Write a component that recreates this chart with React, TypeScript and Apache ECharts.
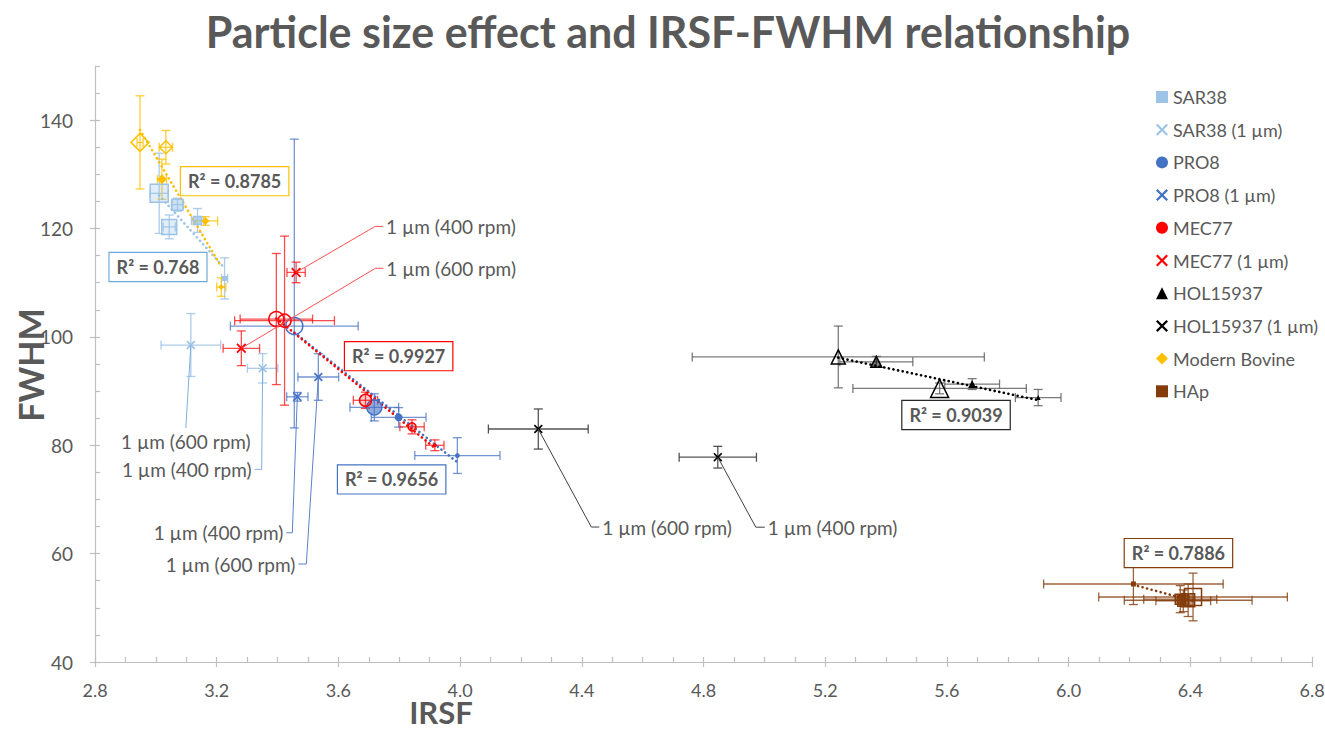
import React, { useEffect, useRef } from 'react';
import * as echarts from 'echarts';

// ---------- texts ----------
const TITLE = 'Particle size effect and IRSF-FWHM relationship';
const X_NAME = 'IRSF';
const Y_NAME = 'FWHM';

// ---------- axes ----------
const X_MIN = 2.8, X_MAX = 6.8, X_STEP = 0.4, X_MINOR = 0.1;
const Y_MIN = 40, Y_MAX = 150, Y_STEP = 20, Y_MINOR = 5;

// ---------- data: [IRSF, FWHM]; errors: [-IRSF, +IRSF, -FWHM, +FWHM] ----------
const SAR38 = [[3.011, 126.5], [3.044, 120.3], [3.071, 124.4], [3.137, 121.5], [3.226, 110.8]];
const SAR38_ERR = [[0.03, 0.03, 7.4, 7.4], [0.02, 0.02, 2.2, 2.2], [0.02, 0.02, 1.2, 1.2], [0.02, 0.02, 2.2, 2.2], [0.01, 0.01, 3.8, 3.8]];
const SAR38_1UM = [[3.115, 98.5], [3.351, 94.2]];
const SAR38_1UM_ERR = [[0.098, 0.098, 5.8, 5.8], [0.05, 0.05, 2.7, 2.7]];
const SAR38_1UM_LABELS = ['1 µm (600 rpm)', '1 µm (400 rpm)'];

const PRO8 = [[3.455, 102.0], [3.718, 87.0], [3.798, 85.15], [3.991, 78.1]];
const PRO8_ERR = [[0.21, 0.21, 18.8, 34.5], [0.08, 0.08, 2.5, 2.5], [0.09, 0.09, 1.8, 1.8], [0.14, 0.14, 3.3, 3.3]];
const PRO8_1UM = [[3.465, 88.95], [3.534, 92.6]];
const PRO8_1UM_ERR = [[0.035, 0.035, 0.8, 0.8], [0.067, 0.067, 4.3, 4.3]];
const PRO8_1UM_LABELS = ['1 µm (400 rpm)', '1 µm (600 rpm)'];

const MEC77 = [[3.396, 103.3], [3.423, 103.0], [3.689, 88.3], [3.842, 83.4], [3.917, 80.0]];
const MEC77_ERR = [[0.119, 0.119, 12.1, 12.1], [0.164, 0.164, 15.6, 15.6], [0.04, 0.04, 1.5, 1.5], [0.04, 0.04, 1.3, 1.3], [0.03, 0.03, 1.0, 1.0]];
const MEC77_1UM = [[3.461, 111.9], [3.281, 97.9]];
const MEC77_1UM_ERR = [[0.03, 0.03, 1.9, 1.9], [0.06, 0.06, 3.2, 3.2]];
const MEC77_1UM_LABELS = ['1 µm (400 rpm)', '1 µm (600 rpm)'];

const HOL = [[5.243, 96.3], [5.368, 95.4], [5.576, 90.5], [5.683, 91.3], [5.900, 88.8]];
const HOL_ERR = [[0.48, 0.48, 5.7, 5.7], [0.12, 0.12, 1.0, 1.0], [0.285, 0.285, 1.0, 1.0], [0.09, 0.09, 1.0, 1.0], [0.075, 0.075, 1.5, 1.5]];
const HOL_1UM = [[4.257, 83.0], [4.847, 77.8]];
const HOL_1UM_ERR = [[0.164, 0.164, 3.7, 3.7], [0.127, 0.127, 2.0, 2.0]];
const HOL_1UM_LABELS = ['1 µm (600 rpm)', '1 µm (400 rpm)'];

const BOVINE = [[2.948, 135.9], [3.033, 135.0], [3.020, 129.1], [3.163, 121.4], [3.215, 109.2]];
const BOVINE_ERR = [[0.01, 0.01, 8.6, 8.6], [0.022, 0.022, 3.1, 3.1], [0.015, 0.015, 3.7, 3.7], [0.04, 0.04, 0.8, 0.8], [0.015, 0.015, 1.7, 1.7]];

const HAP = [[6.213, 54.4], [6.367, 51.6], [6.377, 51.3], [6.393, 51.4], [6.409, 52.0]];
const HAP_ERR = [[0.295, 0.295, 3.8, 3.8], [0.12, 0.12, 2.5, 2.5], [0.09, 0.09, 2.0, 2.0], [0.21, 0.21, 3.0, 3.0], [0.31, 0.31, 4.4, 4.4]];

// R² of each trend line (as printed)
const R2_SAR38 = '0.768';
const R2_PRO8 = '0.9656';
const R2_MEC77 = '0.9927';
const R2_HOL = '0.9039';
const R2_BOVINE = '0.8785';
const R2_HAP = '0.7886';

// ---------- styles ----------
const FONT = 'Lato';
const GREY = '#595959';
const AXIS = '#BFBFBF';
const X_PATH = 'path://M1.3,0L5,3.7L8.7,0L10,1.3L6.3,5L10,8.7L8.7,10L5,6.3L1.3,10L0,8.7L3.7,5L0,1.3Z';

const STYLE = {
  sar: { color: '#9DC3E6', sizes: [18, 15, 11, 8, 5], alpha: [0.3, 0.3, 0.5, 0.7, 1] },
  pro: { color: '#4472C4', sizes: [17, 15, 8, 5], alpha: [0, 0.6, 1, 1] },
  mec: { color: '#FF0000', sizes: [15, 13, 12, 8, 4], alpha: [0, 0, 0.2, 0.3, 1] },
  hol: { color: '#000000', sizes: [14, 11, 18, 8, 5], alpha: [0, 0.5, 0, 1, 1] },
  bov: { color: '#FFC000', sizes: [18, 13, 10, 8, 6], alpha: [0, 0, 1, 1, 1] },
  hap: { color: '#843C0C', sizes: [5, 10, 11, 13, 17], alpha: [1, 0.6, 0.6, 0.5, 0] },
};

function rgba(hex: string, a: number) {
  const n = parseInt(hex.slice(1), 16);
  return `rgba(${(n >> 16) & 255},${(n >> 8) & 255},${n & 255},${a})`;
}

function linfit(pts: number[][]) {
  const n = pts.length;
  let sx = 0, sy = 0, sxx = 0, sxy = 0;
  pts.forEach(([x, y]) => { sx += x; sy += y; sxx += x * x; sxy += x * y; });
  const b = (n * sxy - sx * sy) / (n * sxx - sx * sx);
  const a = (sy - b * sx) / n;
  const xs = pts.map(p => p[0]);
  const x0 = Math.min(...xs), x1 = Math.max(...xs);
  return [[x0, a + b * x0], [x1, a + b * x1]];
}

function scatterSeries(name: string, pts: number[][], symbol: string, color: string, sizes: number[] | number, alpha?: number[]) {
  return {
    name, type: 'scatter', symbol, z: 4,
    xAxisIndex: 0, yAxisIndex: 0,
    itemStyle: { color, borderColor: color, borderWidth: 0, opacity: 1 },
    data: pts.map((p, i) => {
      const a = alpha ? alpha[i] : 1;
      return {
        value: p,
        symbolSize: Array.isArray(sizes) ? sizes[i] : sizes,
        itemStyle: { color: a >= 1 ? color : rgba(color, a), borderColor: color, borderWidth: a >= 1 ? 0 : 1.5 },
      };
    }),
  };
}

function errorSeries(name: string, pts: number[][], err: number[][], color: string, opacity: number) {
  return {
    name: name + ' err', type: 'custom', z: 2, silent: true,
    xAxisIndex: 0, yAxisIndex: 0,
    data: pts.map((p, i) => [p[0], p[1], ...err[i]]),
    encode: { x: 0, y: 1 },
    renderItem: (_params: any, api: any) => {
      const x = api.value(0), y = api.value(1);
      const l = api.coord([x - api.value(2), y]);
      const r = api.coord([x + api.value(3), y]);
      const b = api.coord([x, y - api.value(4)]);
      const t = api.coord([x, y + api.value(5)]);
      const style = { stroke: color, lineWidth: 1.3, opacity };
      const cap = 4.5;
      const ln = (x1: number, y1: number, x2: number, y2: number) => ({ type: 'line', shape: { x1, y1, x2, y2 }, style });
      return {
        type: 'group',
        children: [
          ln(l[0], l[1], r[0], r[1]),
          ln(l[0], l[1] - cap, l[0], l[1] + cap),
          ln(r[0], r[1] - cap, r[0], r[1] + cap),
          ln(t[0], t[1], b[0], b[1]),
          ln(t[0] - cap, t[1], t[0] + cap, t[1]),
          ln(b[0] - cap, b[1], b[0] + cap, b[1]),
        ],
      };
    },
  };
}

function trendSeries(name: string, pts: number[][], color: string) {
  return {
    name: name + ' trend', type: 'line', z: 3, silent: true, symbol: 'none',
    xAxisIndex: 0, yAxisIndex: 0,
    data: linfit(pts),
    lineStyle: { color, width: 2.6, type: [0.1, 4.6], cap: 'round' },
  };
}

// R² label anchors (data coordinates) and callouts (pixel offsets from the marked point)
const R2_BOXES = [
  { text: R2_BOVINE, color: '#FFC000', at: [3.259, 128.75] },
  { text: R2_SAR38, color: '#6FA8DC', at: [3.007, 112.9] },
  { text: R2_MEC77, color: '#FF0000', at: [3.798, 96.45] },
  { text: R2_PRO8, color: '#4472C4', at: [3.775, 73.7] },
  { text: R2_HOL, color: '#262626', at: [5.63, 85.6] },
  { text: R2_HAP, color: '#843C0C', at: [6.361, 60.1] },
];

const CALLOUTS = [
  { pt: MEC77_1UM[0], text: MEC77_1UM_LABELS[0], dx: 79, dy: -46, h: 8, color: '#FF5050' },
  { pt: MEC77_1UM[1], text: MEC77_1UM_LABELS[1], dx: 134, dy: -80, h: 8, color: '#FF5050' },
  { pt: SAR38_1UM[0], text: SAR38_1UM_LABELS[0], dx: -5, dy: 83, h: 0, color: '#7FB0DE' },
  { pt: SAR38_1UM[1], text: SAR38_1UM_LABELS[1], dx: -1, dy: 101, h: -7, color: '#7FB0DE' },
  { pt: PRO8_1UM[0], text: PRO8_1UM_LABELS[0], dx: -5, dy: 136, h: -6, color: '#5B82CC' },
  { pt: PRO8_1UM[1], text: PRO8_1UM_LABELS[1], dx: -12, dy: 187, h: -8, color: '#5B82CC' },
  { pt: HOL_1UM[0], text: HOL_1UM_LABELS[0], dx: 53, dy: 98, h: 8, color: '#404040' },
  { pt: HOL_1UM[1], text: HOL_1UM_LABELS[1], dx: 38, dy: 70, h: 9, color: '#404040' },
];

const LEGEND = ['SAR38', 'SAR38 (1 µm)', 'PRO8', 'PRO8 (1 µm)', 'MEC77', 'MEC77 (1 µm)', 'HOL15937', 'HOL15937 (1 µm)', 'Modern Bovine', 'HAp'];

function buildOption() {
  const s = STYLE;
  const series: any[] = [
    errorSeries('SAR38', SAR38, SAR38_ERR, s.sar.color, 0.85),
    errorSeries('SAR38 (1 µm)', SAR38_1UM, SAR38_1UM_ERR, s.sar.color, 0.85),
    errorSeries('PRO8', PRO8, PRO8_ERR, s.pro.color, 0.75),
    errorSeries('PRO8 (1 µm)', PRO8_1UM, PRO8_1UM_ERR, s.pro.color, 0.75),
    errorSeries('MEC77', MEC77, MEC77_ERR, s.mec.color, 0.7),
    errorSeries('MEC77 (1 µm)', MEC77_1UM, MEC77_1UM_ERR, s.mec.color, 0.7),
    errorSeries('HOL15937', HOL, HOL_ERR, '#595959', 0.8),
    errorSeries('HOL15937 (1 µm)', HOL_1UM, HOL_1UM_ERR, '#404040', 0.9),
    errorSeries('Modern Bovine', BOVINE, BOVINE_ERR, s.bov.color, 0.8),
    errorSeries('HAp', HAP, HAP_ERR, s.hap.color, 0.8),
    trendSeries('SAR38', SAR38, s.sar.color),
    trendSeries('Modern Bovine', BOVINE, s.bov.color),
    trendSeries('PRO8', PRO8, s.pro.color),
    trendSeries('MEC77', MEC77, s.mec.color),
    trendSeries('HOL15937', HOL, s.hol.color),
    trendSeries('HAp', HAP, s.hap.color),
    scatterSeries('SAR38', SAR38, 'rect', s.sar.color, s.sar.sizes, s.sar.alpha),
    scatterSeries('SAR38 (1 µm)', SAR38_1UM, X_PATH, s.sar.color, 9),
    scatterSeries('PRO8', PRO8, 'circle', s.pro.color, s.pro.sizes, s.pro.alpha),
    scatterSeries('PRO8 (1 µm)', PRO8_1UM, X_PATH, s.pro.color, 9),
    scatterSeries('MEC77', MEC77, 'circle', s.mec.color, s.mec.sizes, s.mec.alpha),
    scatterSeries('MEC77 (1 µm)', MEC77_1UM, X_PATH, s.mec.color, 10),
    scatterSeries('HOL15937', HOL, 'triangle', s.hol.color, s.hol.sizes, s.hol.alpha),
    scatterSeries('HOL15937 (1 µm)', HOL_1UM, X_PATH, s.hol.color, 9),
    scatterSeries('Modern Bovine', BOVINE, 'diamond', s.bov.color, s.bov.sizes, s.bov.alpha),
    scatterSeries('HAp', HAP, 'rect', s.hap.color, s.hap.sizes, s.hap.alpha),
  ];

  const axisLine = { show: true, lineStyle: { color: AXIS, width: 1.2 } };
  return {
    animation: false,
    backgroundColor: '#ffffff',
    grid: { left: 95, right: 13, top: 66, bottom: 68, containLabel: false, outerBoundsMode: 'none' },
    legend: {
      orient: 'vertical', left: 1151, top: 82,
      itemWidth: 12, itemHeight: 12, itemGap: 12.7,
      data: LEGEND,
      textStyle: { color: GREY, fontSize: 18, fontFamily: FONT, lineHeight: 20 },
    },
    xAxis: [
      {
        type: 'value', min: X_MIN, max: X_MAX, interval: X_STEP,
        axisLine, axisTick: { show: true, inside: false, length: 5, lineStyle: { color: AXIS, width: 1.2 } },
        axisLabel: { color: GREY, fontSize: 18, fontFamily: FONT, margin: 21, lineHeight: 14, formatter: (v: number) => v.toFixed(1) },
        splitLine: { show: false },
      },
      {
        type: 'value', min: X_MIN, max: X_MAX, interval: X_MINOR, position: 'bottom',
        axisLine: { show: false }, axisLabel: { show: false }, splitLine: { show: false },
        axisTick: { show: true, inside: true, length: 5, lineStyle: { color: AXIS, width: 1.2 } },
      },
    ],
    yAxis: [
      {
        type: 'value', min: Y_MIN, max: Y_MAX, interval: Y_STEP,
        axisLine, axisTick: { show: true, inside: false, length: 5, lineStyle: { color: AXIS, width: 1.2 } },
        axisLabel: { color: GREY, fontSize: 19, fontFamily: FONT, margin: 22, showMaxLabel: false },
        splitLine: { show: false },
      },
      {
        type: 'value', min: Y_MIN, max: Y_MAX, interval: Y_MINOR, position: 'left',
        axisLine: { show: false }, axisLabel: { show: false }, splitLine: { show: false },
        axisTick: { show: true, inside: true, length: 5, lineStyle: { color: AXIS, width: 1.2 } },
      },
    ],
    series,
  };
}

function buildGraphics(chart: any) {
  const px = (p: number[]) => chart.convertToPixel({ xAxisIndex: 0, yAxisIndex: 0 }, p) as number[];
  const els: any[] = [];
  els.push({
    type: 'text', x: 668, y: 31, silent: true,
    style: { text: TITLE, fill: GREY, font: `bold 43px ${FONT}`, align: 'center', verticalAlign: 'middle' },
  });
  els.push({
    type: 'text', x: 441, y: 712, silent: true,
    style: { text: X_NAME, fill: GREY, font: `bold 31px ${FONT}`, align: 'center', verticalAlign: 'middle' },
  });
  els.push({
    type: 'text', x: 30, y: 365, rotation: Math.PI / 2, silent: true,
    style: { text: Y_NAME, fill: GREY, font: `bold 34px ${FONT}`, align: 'center', verticalAlign: 'middle' },
  });
  CALLOUTS.forEach(c => {
    const p = px(c.pt);
    const e = [p[0] + c.dx, p[1] + c.dy];
    const h = [e[0] + c.h, e[1]];
    els.push({
      type: 'polyline', silent: true, z: 5,
      shape: { points: [p, e, h] },
      style: { stroke: c.color, fill: 'none', lineWidth: 1 },
    });
    let tx = h[0], ty = h[1], align = 'left', va = 'middle';
    if (c.h > 0) tx = h[0] + 3;
    else if (c.h < 0) { tx = h[0] - 3; align = 'right'; }
    else { align = 'center'; va = 'top'; ty = h[1] + 4; }
    els.push({
      type: 'text', x: tx, y: ty, silent: true, z: 5,
      style: { text: c.text, fill: GREY, font: `19px ${FONT}`, align, verticalAlign: va },
    });
  });
  R2_BOXES.forEach(b => {
    const p = px(b.at);
    els.push({
      type: 'text', x: p[0], y: p[1], silent: true, z: 6,
      style: {
        text: 'R² = ' + b.text, fill: GREY, font: `bold 18px ${FONT}`, align: 'center', verticalAlign: 'middle',
        backgroundColor: '#ffffff', borderColor: b.color, borderWidth: 1.2, padding: [5, 7],
      },
    });
  });
  return els;
}

export default function App() {
  const ref = useRef<HTMLDivElement>(null);
  useEffect(() => {
    const chart = echarts.init(ref.current!, null, { renderer: 'svg' });
    chart.setOption(buildOption());
    chart.setOption({ graphic: buildGraphics(chart) });
    return () => chart.dispose();
  }, []);
  return <div ref={ref} style={{ position: 'fixed', left: 0, top: 0, width: 1325, height: 730, background: '#fff' }} />;
}
